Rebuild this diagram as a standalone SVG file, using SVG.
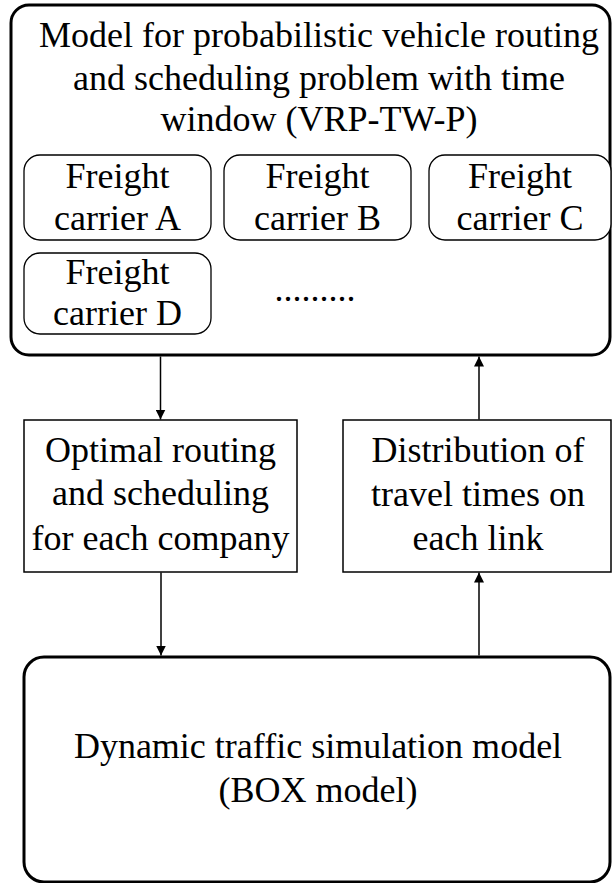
<svg xmlns="http://www.w3.org/2000/svg" width="612" height="883" viewBox="0 0 612 883">
<defs>
<marker id="ah" viewBox="0 0 10 10" refX="10" refY="5" markerWidth="10" markerHeight="10" markerUnits="userSpaceOnUse" orient="auto">
<path d="M0,0 L10,5 L0,10 Z" fill="#000"/>
</marker>
</defs>
<g font-family="Liberation Serif" font-size="36" text-anchor="middle" fill="#000">
<g id="vrp">
<rect x="11" y="5" width="599" height="350" rx="18" fill="#fff" stroke="#000" stroke-width="3"/>
<text x="319" y="47">Model for probabilistic vehicle routing</text>
<text x="319" y="90">and scheduling problem with time</text>
<text x="319" y="131">window (VRP-TW-P)</text>
</g>
<g id="carrierA">
<rect x="24" y="155" width="187" height="85" rx="16" fill="#fff" stroke="#000" stroke-width="1.3"/>
<text x="117.5" y="188">Freight</text>
<text x="117.5" y="230">carrier A</text>
</g>
<g id="carrierB">
<rect x="224" y="155" width="187" height="85" rx="16" fill="#fff" stroke="#000" stroke-width="1.3"/>
<text x="317.5" y="188">Freight</text>
<text x="317.5" y="230">carrier B</text>
</g>
<g id="carrierC">
<rect x="429" y="155" width="182" height="85" rx="16" fill="#fff" stroke="#000" stroke-width="1.3"/>
<text x="520" y="188">Freight</text>
<text x="520" y="230">carrier C</text>
</g>
<g id="carrierD">
<rect x="24" y="253" width="187" height="81" rx="16" fill="#fff" stroke="#000" stroke-width="1.3"/>
<text x="117.5" y="284">Freight</text>
<text x="117.5" y="325">carrier D</text>
</g>
<g id="more">
<text x="315" y="301">.........</text>
</g>
<g id="optimal">
<rect x="24" y="420" width="273" height="152" fill="#fff" stroke="#000" stroke-width="1.5"/>
<text x="160.5" y="462">Optimal routing</text>
<text x="160.5" y="505">and scheduling</text>
<text x="160.5" y="550">for each company</text>
</g>
<g id="distribution">
<rect x="343" y="420" width="268" height="152" fill="#fff" stroke="#000" stroke-width="1.5"/>
<text x="478" y="462">Distribution of</text>
<text x="478" y="506">travel times on</text>
<text x="478" y="550">each link</text>
</g>
<g id="box">
<rect x="24" y="657" width="586" height="225" rx="20" fill="#fff" stroke="#000" stroke-width="3"/>
<text x="318" y="758">Dynamic traffic simulation model</text>
<text x="318" y="802">(BOX model)</text>
</g>
</g>
<g id="connectors" stroke="#000" stroke-width="1.5" fill="none">
<line x1="160.5" y1="356.5" x2="160.5" y2="419.5" marker-end="url(#ah)"/>
<line x1="479" y1="419.5" x2="479" y2="356.5" marker-end="url(#ah)"/>
<line x1="161" y1="572.5" x2="161" y2="655.5" marker-end="url(#ah)"/>
<line x1="479" y1="655.5" x2="479" y2="572.5" marker-end="url(#ah)"/>
</g>
</svg>
